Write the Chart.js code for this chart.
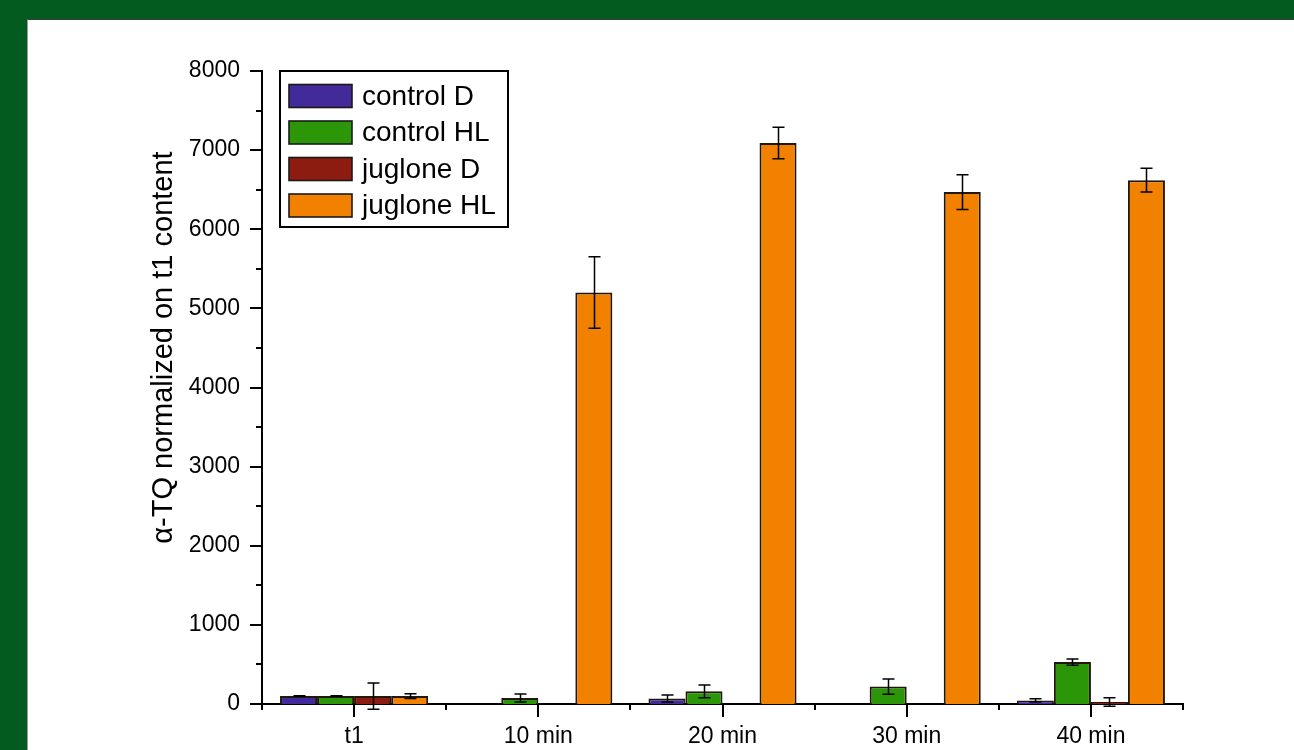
<!DOCTYPE html>
<html>
<head>
<meta charset="utf-8">
<script src="https://cdn.jsdelivr.net/npm/chart.js@4.4.1/dist/chart.umd.min.js"></script>
<style>
  html, body { margin: 0; padding: 0; }
  body { width: 1294px; height: 750px; background: #035b1f; position: relative; overflow: hidden; }
  #panel { position: absolute; left: 27px; top: 19px; right: 0; bottom: 0; background: #ffffff;
           border-top: 1px solid #3a3a3a; border-left: 1px solid #9a9a9a; }
  #c { position: absolute; left: 0; top: 0; }
</style>
</head>
<body>
<div id="panel"></div>
<canvas id="c" width="1294" height="750"></canvas>
<script>
const categories = ['t1', '10 min', '20 min', '30 min', '40 min'];
const seriesNames = ['control D', 'control HL', 'juglone D', 'juglone HL'];
const controlD      = [100, 0, 70, 0, 45];
const controlDErr   = [3, 0, 45, 0, 20];
const controlHL     = [100, 75, 160, 220, 530];
const controlHLErr  = [3, 50, 80, 97, 40];
const jugloneD      = [100, 0, 0, 0, 25];
const jugloneDErr   = [165, 0, 0, 0, 55];
const jugloneHL     = [100, 5200, 7090, 6470, 6620];
const jugloneHLErr  = [30, 452, 200, 220, 150];
const yTicks = [0, 1000, 2000, 3000, 4000, 5000, 6000, 7000, 8000];
const yTitle = 'α-TQ normalized on t1 content';

const colors = ['#432a9a', '#2b9607', '#8d1b0f', '#f28100'];
const values = [controlD, controlHL, jugloneD, jugloneHL];
const errors = [controlDErr, controlHLErr, jugloneDErr, jugloneHLErr];
const FONT = "'Liberation Sans', Arial, sans-serif";

const errorBarPlugin = {
  id: 'errorBars',
  afterDatasetsDraw(chart) {
    const ctx = chart.ctx;
    const y = chart.scales.y;
    ctx.save();
    ctx.strokeStyle = '#000';
    ctx.lineWidth = 1.5;
    chart.data.datasets.forEach((ds, i) => {
      const meta = chart.getDatasetMeta(i);
      meta.data.forEach((bar, j) => {
        const v = ds.data[j];
        const e = errors[i][j];
        if (!e) return;
        const x = Math.round(bar.x) + 0.5;
        const yt = y.getPixelForValue(v + e);
        const yb = y.getPixelForValue(v - e);
        ctx.beginPath();
        ctx.moveTo(x, yt); ctx.lineTo(x, yb);
        ctx.moveTo(x - 6, yt); ctx.lineTo(x + 6, yt);
        ctx.moveTo(x - 6, yb); ctx.lineTo(x + 6, yb);
        ctx.stroke();
      });
    });
    ctx.restore();
  }
};

const axisTicksPlugin = {
  id: 'axisTicks',
  afterDraw(chart) {
    const ctx = chart.ctx;
    const xs = chart.scales.x, ys = chart.scales.y;
    const ax = chart.chartArea.left, ay = chart.chartArea.bottom;
    ctx.save();
    ctx.strokeStyle = '#000';
    ctx.lineWidth = 2;
    ctx.beginPath();
    for (let v = 0; v <= 8000; v += 500) {
      const py = Math.round(ys.getPixelForValue(v));
      const len = (v % 1000 === 0) ? 12 : 6;
      ctx.moveTo(ax, py); ctx.lineTo(ax - len, py);
    }
    for (let i = 0; i < categories.length; i++) {
      const px = Math.round(xs.getPixelForValue(i));
      ctx.moveTo(px, ay); ctx.lineTo(px, ay + 13);
    }
    for (let i = 0; i <= categories.length; i++) {
      const px = Math.round(xs.getPixelForValue(i - 0.5));
      ctx.moveTo(px, ay); ctx.lineTo(px, ay + 6);
    }
    ctx.stroke();
    // y-axis title
    const ca = chart.chartArea;
    ctx.translate(ca.left - 98, (ca.top + ca.bottom) / 2 - 40);
    ctx.rotate(-Math.PI / 2);
    ctx.font = '29px ' + FONT;
    ctx.fillStyle = '#000';
    ctx.textAlign = 'center';
    ctx.textBaseline = 'middle';
    ctx.fillText(yTitle, 0, 0);
    ctx.restore();
  }
};

const legendPlugin = {
  id: 'boxLegend',
  afterDraw(chart) {
    const ctx = chart.ctx;
    const left = chart.chartArea.left + 18;
    const top = chart.chartArea.top;
    const w = 228, h = 156;
    ctx.save();
    ctx.fillStyle = '#fff';
    ctx.fillRect(left, top, w, h);
    ctx.strokeStyle = '#000';
    ctx.lineWidth = 2;
    ctx.strokeRect(left, top, w, h);
    ctx.font = '28px ' + FONT;
    ctx.textBaseline = 'middle';
    ctx.textAlign = 'left';
    seriesNames.forEach((name, i) => {
      const cy = top + 25 + i * 36.5;
      ctx.fillStyle = colors[i];
      ctx.fillRect(left + 9, cy - 11.5, 63, 23);
      ctx.strokeStyle = '#1a1a1a';
      ctx.lineWidth = 1.6;
      ctx.strokeRect(left + 9, cy - 11.5, 63, 23);
      ctx.fillStyle = '#000';
      ctx.fillText(name, left + 82, cy + 1);
    });
    ctx.restore();
  }
};

new Chart(document.getElementById('c'), {
  type: 'bar',
  data: {
    labels: categories,
    datasets: seriesNames.map((name, i) => ({
      label: name,
      data: values[i],
      backgroundColor: colors[i],
      borderColor: '#22170c',
      borderWidth: 2,
      barPercentage: 1,
      categoryPercentage: 0.804
    }))
  },
  options: {
    responsive: false,
    animation: false,
    devicePixelRatio: 1,
    layout: { padding: { left: 150, right: 111, top: 71, bottom: 0 } },
    plugins: { legend: { display: false }, tooltip: { enabled: false } },
    scales: {
      x: {
        grid: { display: false, drawTicks: false },
        border: { display: true, color: '#000', width: 2 },
        ticks: { color: '#000', font: { family: FONT, size: 23 }, padding: 19, maxRotation: 0 },
        afterFit(s) { s.height = 46; }
      },
      y: {
        min: 0, max: 8000,
        afterBuildTicks(s) { s.ticks = yTicks.map(v => ({ value: v })); },
        grid: { display: false, drawTicks: false },
        border: { display: true, color: '#000', width: 2 },
        ticks: { color: '#000', font: { family: FONT, size: 23 }, padding: 22,
                 callback: v => String(v) },
        title: { display: false },
        afterFit(s) { s.width = 112; }
      }
    }
  },
  plugins: [errorBarPlugin, axisTicksPlugin, legendPlugin]
});
</script>
</body>
</html>
